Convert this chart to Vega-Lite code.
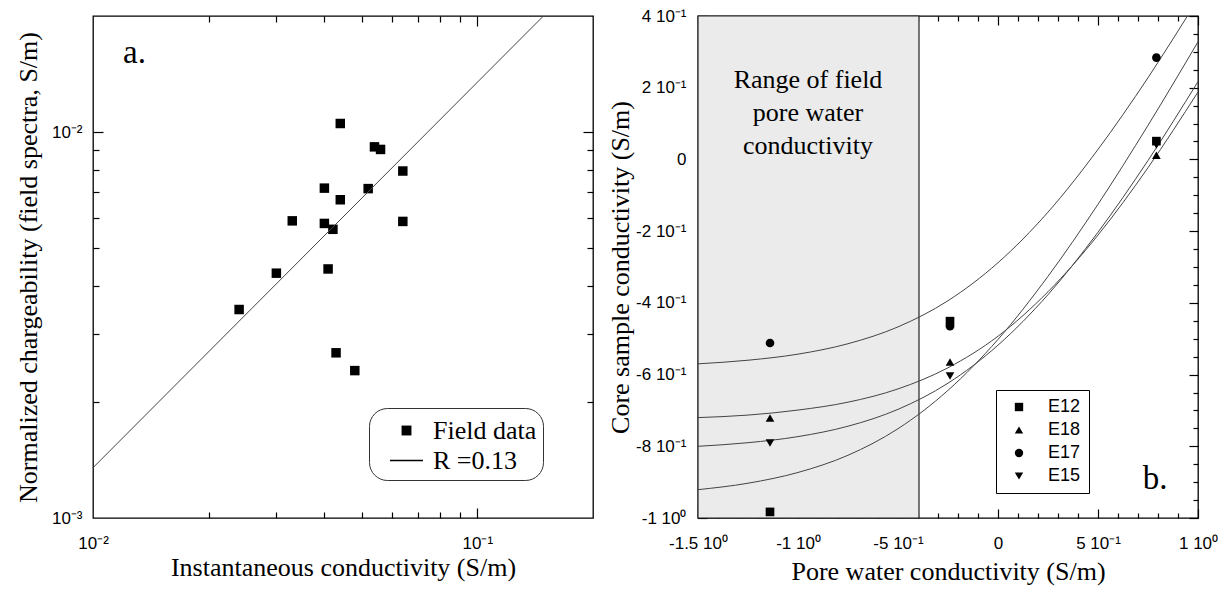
{
  "$schema": "https://vega.github.io/schema/vega-lite/v6.json",
  "padding": {"left": 14, "top": 6, "right": 5, "bottom": 5},
  "spacing": 11,
  "background": "white",
  "resolve": {"scale": {"shape": "independent"}, "legend": {"shape": "independent"}},
  "config": {
    "view": {"stroke": "black", "strokeWidth": 1.3},
    "font": "Liberation Sans",
    "axis": {"grid": false, "domain": false, "labelFont": "Liberation Sans", "labelFontSize": 17, "labelColor": "black", "titleFont": "Liberation Serif", "titleFontSize": 26, "titleFontWeight": "normal", "titleColor": "black", "tickColor": "black", "tickWidth": 1.2, "zindex": 2},
    "text": {"font": "Liberation Serif", "color": "black"}
  },
  "hconcat": [
    {
      "width": 500,
      "height": 502,
      "resolve": {"axis": {"x": "independent", "y": "independent"}},
      "layer": [
        {
          "data": {"values": [
            {"x": 0.0440, "y": 0.01053, "series": "Field data"},
            {"x": 0.0540, "y": 0.00916, "series": "Field data"},
            {"x": 0.0560, "y": 0.00902, "series": "Field data"},
            {"x": 0.0640, "y": 0.00793, "series": "Field data"},
            {"x": 0.0400, "y": 0.00716, "series": "Field data"},
            {"x": 0.0520, "y": 0.00714, "series": "Field data"},
            {"x": 0.0440, "y": 0.00668, "series": "Field data"},
            {"x": 0.0330, "y": 0.00589, "series": "Field data"},
            {"x": 0.0400, "y": 0.00580, "series": "Field data"},
            {"x": 0.0421, "y": 0.00560, "series": "Field data"},
            {"x": 0.0640, "y": 0.00587, "series": "Field data"},
            {"x": 0.0409, "y": 0.00442, "series": "Field data"},
            {"x": 0.0300, "y": 0.00431, "series": "Field data"},
            {"x": 0.0240, "y": 0.00347, "series": "Field data"},
            {"x": 0.0429, "y": 0.00268, "series": "Field data"},
            {"x": 0.0480, "y": 0.00241, "series": "Field data"}
          ]},
          "mark": {"type": "point", "filled": true, "color": "black", "size": 1000, "opacity": 1},
          "encoding": {
            "x": {"field": "x", "type": "quantitative", "scale": {"type": "log", "domain": [0.01, 0.2], "nice": false, "zero": false},
              "axis": {"orient": "bottom", "values": [0.01, 0.1], "ticks": false, "labelExpr": "datum.value < 0.05 ? '10⁻²' : '10⁻¹'", "labelPadding": 17.5, "labelFlush": false, "labelOverlap": false, "title": "Instantaneous conductivity (S/m)", "titlePadding": 3}},
            "y": {"field": "y", "type": "quantitative", "scale": {"type": "log", "domain": [0.001, 0.02], "nice": false, "zero": false},
              "axis": {"orient": "left", "values": [0.001, 0.01], "ticks": false, "labelExpr": "datum.value < 0.005 ? '10⁻³' : '10⁻²'", "labelPadding": 11, "labelFlush": false, "labelOverlap": false, "title": "Normalized chargeability (field spectra, S/m)", "titlePadding": 10}},
            "shape": {"field": "series", "type": "nominal", "scale": {"domain": ["Field data", "R =0.13"], "range": ["M-0.3,-0.3H0.3V0.3H-0.3Z", "M-1,-0.04H1V0.04H-1Z"]},
              "legend": {"orient": "none", "legendX": 276, "legendY": 392, "title": null, "labelFont": "Liberation Serif", "labelFontSize": 26, "labelColor": "black", "labelExpr": "datum.label + '\u00a0\u00a0\u00a0\u00a0\u00a0'", "symbolSize": 1089, "symbolOffset": 15, "labelOffset": 10, "rowPadding": -2, "padding": 6, "strokeColor": "#333", "cornerRadius": 18, "fillColor": "white", "symbolFillColor": "black", "symbolStrokeWidth": 0}}
          }
        },
        {
          "data": {"values": [{"x": 0.01, "y": 0.00135}, {"x": 0.1486, "y": 0.02}]},
          "mark": {"type": "line", "color": "#444", "strokeWidth": 1},
          "encoding": {
            "x": {"field": "x", "type": "quantitative", "scale": {"type": "log", "domain": [0.01, 0.2], "nice": false, "zero": false},
              "axis": {"orient": "bottom", "values": [0.1], "labels": false, "tickSize": 10, "offset": -10, "title": null}},
            "y": {"field": "y", "type": "quantitative", "scale": {"type": "log", "domain": [0.001, 0.02], "nice": false, "zero": false},
              "axis": {"orient": "left", "values": [0.01], "labels": false, "tickSize": 10, "offset": -10, "title": null}}
          }
        },
        {
          "data": {"values": [{"x": 0.01, "y": 0.00135}]},
          "mark": {"type": "point", "opacity": 0},
          "encoding": {
            "x": {"field": "x", "type": "quantitative", "scale": {"type": "log", "domain": [0.01, 0.2], "nice": false, "zero": false},
              "axis": {"orient": "bottom", "values": [0.02, 0.03, 0.04, 0.05, 0.06, 0.07, 0.08, 0.09], "labels": false, "tickSize": 6, "offset": -6, "title": null}},
            "y": {"field": "y", "type": "quantitative", "scale": {"type": "log", "domain": [0.001, 0.02], "nice": false, "zero": false},
              "axis": {"orient": "left", "values": [0.002, 0.003, 0.004, 0.005, 0.006, 0.007, 0.008, 0.009], "labels": false, "tickSize": 6, "offset": -6, "title": null}}
          }
        },
        {
          "data": {"values": [{"x": 0.01, "y": 0.00135}]},
          "mark": {"type": "point", "opacity": 0},
          "encoding": {
            "x": {"field": "x", "type": "quantitative", "scale": {"type": "log", "domain": [0.01, 0.2], "nice": false, "zero": false},
              "axis": {"orient": "top", "values": [0.1], "labels": false, "tickSize": 10, "offset": -10, "title": null}},
            "y": {"field": "y", "type": "quantitative", "scale": {"type": "log", "domain": [0.001, 0.02], "nice": false, "zero": false},
              "axis": {"orient": "right", "values": [0.01], "labels": false, "tickSize": 10, "offset": -10, "title": null}}
          }
        },
        {
          "data": {"values": [{"x": 0.01, "y": 0.00135}]},
          "mark": {"type": "point", "opacity": 0},
          "encoding": {
            "x": {"field": "x", "type": "quantitative", "scale": {"type": "log", "domain": [0.01, 0.2], "nice": false, "zero": false},
              "axis": {"orient": "top", "values": [0.02, 0.03, 0.04, 0.05, 0.06, 0.07, 0.08, 0.09], "labels": false, "tickSize": 6, "offset": -6, "title": null}},
            "y": {"field": "y", "type": "quantitative", "scale": {"type": "log", "domain": [0.001, 0.02], "nice": false, "zero": false},
              "axis": {"orient": "right", "values": [0.002, 0.003, 0.004, 0.005, 0.006, 0.007, 0.008, 0.009], "labels": false, "tickSize": 6, "offset": -6, "title": null}}
          }
        },
        {
          "data": {"values": [{"label": "a."}]},
          "mark": {"type": "text", "font": "Liberation Serif", "fontSize": 33, "align": "left", "baseline": "alphabetic", "color": "black"},
          "encoding": {
            "text": {"field": "label"},
            "x": {"datum": 0.01197, "type": "quantitative", "scale": {"type": "log", "domain": [0.01, 0.2], "nice": false, "zero": false}, "axis": null},
            "y": {"datum": 0.01507, "type": "quantitative", "scale": {"type": "log", "domain": [0.001, 0.02], "nice": false, "zero": false}, "axis": null}
          }
        }
      ]
    },
    {
      "width": 500,
      "height": 502,
      "resolve": {"axis": {"x": "independent", "y": "independent"}},
      "layer": [
        {
          "data": {"values": [{"note": "field range"}]},
          "mark": {"type": "rect", "fill": "#ebebeb", "stroke": "#222", "strokeWidth": 1.2},
          "encoding": {
            "x": {"datum": -1.5, "type": "quantitative", "scale": {"domain": [-1.5, 1], "nice": false, "zero": false}, "axis": null},
            "x2": {"datum": -0.395},
            "y": {"datum": -1, "type": "quantitative", "scale": {"domain": [-1, 0.4], "nice": false, "zero": false}, "axis": null},
            "y2": {"datum": 0.4}
          }
        },
        {
          "data": {"values": [{"t": ["Range of field", "pore water", "conductivity"]}]},
          "mark": {"type": "text", "font": "Liberation Serif", "fontSize": 26, "lineHeight": 33, "align": "center", "baseline": "middle", "color": "black"},
          "encoding": {
            "text": {"field": "t"},
            "x": {"datum": -0.95, "type": "quantitative", "scale": {"domain": [-1.5, 1], "nice": false, "zero": false}, "axis": null},
            "y": {"datum": 0.221, "type": "quantitative", "scale": {"domain": [-1, 0.4], "nice": false, "zero": false}, "axis": null}
          }
        },
        {
          "data": {"values": [
            {"sample": "E17", "x": -1.5, "y": -0.570}, {"sample": "E17", "x": -1.25, "y": -0.560}, {"sample": "E17", "x": -1.0, "y": -0.543}, {"sample": "E17", "x": -0.75, "y": -0.514}, {"sample": "E17", "x": -0.5, "y": -0.467}, {"sample": "E17", "x": -0.25, "y": -0.394}, {"sample": "E17", "x": 0.0, "y": -0.288}, {"sample": "E17", "x": 0.25, "y": -0.147}, {"sample": "E17", "x": 0.5, "y": 0.028}, {"sample": "E17", "x": 0.75, "y": 0.228}, {"sample": "E17", "x": 0.875, "y": 0.336}, {"sample": "E17", "x": 0.947, "y": 0.400},
            {"sample": "E12", "x": -1.5, "y": -0.921}, {"sample": "E12", "x": -1.25, "y": -0.903}, {"sample": "E12", "x": -1.0, "y": -0.873}, {"sample": "E12", "x": -0.75, "y": -0.825}, {"sample": "E12", "x": -0.5, "y": -0.751}, {"sample": "E12", "x": -0.25, "y": -0.644}, {"sample": "E12", "x": 0.0, "y": -0.502}, {"sample": "E12", "x": 0.25, "y": -0.326}, {"sample": "E12", "x": 0.5, "y": -0.125}, {"sample": "E12", "x": 0.75, "y": 0.095}, {"sample": "E12", "x": 1.0, "y": 0.328},
            {"sample": "E18", "x": -1.5, "y": -0.720}, {"sample": "E18", "x": -1.25, "y": -0.713}, {"sample": "E18", "x": -1.0, "y": -0.699}, {"sample": "E18", "x": -0.75, "y": -0.677}, {"sample": "E18", "x": -0.5, "y": -0.640}, {"sample": "E18", "x": -0.25, "y": -0.581}, {"sample": "E18", "x": 0.0, "y": -0.493}, {"sample": "E18", "x": 0.25, "y": -0.369}, {"sample": "E18", "x": 0.5, "y": -0.211}, {"sample": "E18", "x": 0.75, "y": -0.023}, {"sample": "E18", "x": 1.0, "y": 0.188},
            {"sample": "E15", "x": -1.5, "y": -0.800}, {"sample": "E15", "x": -1.25, "y": -0.790}, {"sample": "E15", "x": -1.0, "y": -0.773}, {"sample": "E15", "x": -0.75, "y": -0.744}, {"sample": "E15", "x": -0.5, "y": -0.697}, {"sample": "E15", "x": -0.25, "y": -0.624}, {"sample": "E15", "x": 0.0, "y": -0.518}, {"sample": "E15", "x": 0.25, "y": -0.377}, {"sample": "E15", "x": 0.5, "y": -0.203}, {"sample": "E15", "x": 0.75, "y": -0.003}, {"sample": "E15", "x": 1.0, "y": 0.217}
          ]},
          "mark": {"type": "line", "color": "#444", "strokeWidth": 1, "interpolate": "monotone", "clip": true},
          "encoding": {
            "detail": {"field": "sample"},
            "x": {"field": "x", "type": "quantitative", "scale": {"domain": [-1.5, 1], "nice": false, "zero": false},
              "axis": {"orient": "bottom", "values": [-1.5, -1, -0.5, 0, 0.5, 1], "labels": false, "tickSize": 9, "offset": -9, "title": null}},
            "y": {"field": "y", "type": "quantitative", "scale": {"domain": [-1, 0.4], "nice": false, "zero": false},
              "axis": {"orient": "left", "values": [-1, -0.8, -0.6, -0.4, -0.2, 0, 0.2, 0.4], "labels": false, "tickSize": 9, "offset": -9, "title": null}}
          }
        },
        {
          "data": {"values": [{"x": 0, "y": 0}]},
          "mark": {"type": "point", "opacity": 0},
          "encoding": {
            "x": {"field": "x", "type": "quantitative", "scale": {"domain": [-1.5, 1], "nice": false, "zero": false},
              "axis": {"orient": "bottom", "values": [-1.4, -1.3, -1.2, -1.1, -0.9, -0.8, -0.7, -0.6, -0.4, -0.3, -0.2, -0.1, 0.1, 0.2, 0.3, 0.4, 0.6, 0.7, 0.8, 0.9], "labels": false, "tickSize": 5, "offset": -5, "title": null}},
            "y": {"field": "y", "type": "quantitative", "scale": {"domain": [-1, 0.4], "nice": false, "zero": false},
              "axis": {"orient": "left", "values": [-0.95, -0.9, -0.85, -0.75, -0.7, -0.65, -0.55, -0.5, -0.45, -0.35, -0.3, -0.25, -0.15, -0.1, -0.05, 0.05, 0.1, 0.15, 0.25, 0.3, 0.35], "labels": false, "tickSize": 5, "offset": -5, "title": null}}
          }
        },
        {
          "data": {"values": [{"x": 0, "y": 0}]},
          "mark": {"type": "point", "opacity": 0},
          "encoding": {
            "x": {"field": "x", "type": "quantitative", "scale": {"domain": [-1.5, 1], "nice": false, "zero": false},
              "axis": {"orient": "top", "values": [-1.5, -1, -0.5, 0, 0.5, 1], "labels": false, "tickSize": 9, "offset": -9, "title": null}},
            "y": {"field": "y", "type": "quantitative", "scale": {"domain": [-1, 0.4], "nice": false, "zero": false},
              "axis": {"orient": "right", "values": [-1, -0.8, -0.6, -0.4, -0.2, 0, 0.2, 0.4], "labels": false, "tickSize": 9, "offset": -9, "title": null}}
          }
        },
        {
          "data": {"values": [{"x": 0, "y": 0}]},
          "mark": {"type": "point", "opacity": 0},
          "encoding": {
            "x": {"field": "x", "type": "quantitative", "scale": {"domain": [-1.5, 1], "nice": false, "zero": false},
              "axis": {"orient": "top", "values": [-1.4, -1.3, -1.2, -1.1, -0.9, -0.8, -0.7, -0.6, -0.4, -0.3, -0.2, -0.1, 0.1, 0.2, 0.3, 0.4, 0.6, 0.7, 0.8, 0.9], "labels": false, "tickSize": 5, "offset": -5, "title": null}},
            "y": {"field": "y", "type": "quantitative", "scale": {"domain": [-1, 0.4], "nice": false, "zero": false},
              "axis": {"orient": "right", "values": [-0.95, -0.9, -0.85, -0.75, -0.7, -0.65, -0.55, -0.5, -0.45, -0.35, -0.3, -0.25, -0.15, -0.1, -0.05, 0.05, 0.1, 0.15, 0.25, 0.3, 0.35], "labels": false, "tickSize": 5, "offset": -5, "title": null}}
          }
        },
        {
          "data": {"values": [
            {"sample": "E17", "x": -1.14, "y": -0.512}, {"sample": "E18", "x": -1.14, "y": -0.721}, {"sample": "E15", "x": -1.14, "y": -0.791}, {"sample": "E12", "x": -1.14, "y": -0.983},
            {"sample": "E12", "x": -0.24, "y": -0.451}, {"sample": "E17", "x": -0.24, "y": -0.465}, {"sample": "E18", "x": -0.24, "y": -0.565}, {"sample": "E15", "x": -0.24, "y": -0.604},
            {"sample": "E17", "x": 0.792, "y": 0.284}, {"sample": "E12", "x": 0.792, "y": 0.051}, {"sample": "E15", "x": 0.792, "y": 0.040}, {"sample": "E18", "x": 0.792, "y": 0.012}
          ]},
          "mark": {"type": "point", "filled": true, "color": "black", "size": 75, "opacity": 1},
          "encoding": {
            "x": {"field": "x", "type": "quantitative", "scale": {"domain": [-1.5, 1], "nice": false, "zero": false},
              "axis": {"orient": "bottom", "values": [-1.5, -1, -0.5, 0, 0.5, 1], "ticks": false, "labelPadding": 17.5, "labelFlush": false, "labelOverlap": false,
                "labelExpr": "datum.value == 0 ? '0' : abs(datum.value) >= 1 ? (datum.value < 0 ? '-' : '') + abs(datum.value) + ' 10⁰' : (datum.value < 0 ? '-' : '') + round(abs(datum.value) * 10) + ' 10⁻¹'",
                "title": "Pore water conductivity (S/m)", "titlePadding": 7}},
            "y": {"field": "y", "type": "quantitative", "scale": {"domain": [-1, 0.4], "nice": false, "zero": false},
              "axis": {"orient": "left", "values": [-1, -0.8, -0.6, -0.4, -0.2, 0, 0.2, 0.4], "ticks": false, "labelPadding": 12, "labelFlush": false, "labelOverlap": false,
                "labelExpr": "datum.value == 0 ? '0' : abs(datum.value) >= 1 ? (datum.value < 0 ? '-' : '') + abs(datum.value) + ' 10⁰' : (datum.value < 0 ? '-' : '') + round(abs(datum.value) * 10) + ' 10⁻¹'",
                "title": "Core sample conductivity (S/m)", "titlePadding": 2}},
            "shape": {"field": "sample", "type": "nominal", "scale": {"domain": ["E12", "E18", "E17", "E15"], "range": ["square", "triangle-up", "circle", "triangle-down"]},
              "legend": {"orient": "none", "legendX": 298, "legendY": 374, "title": null, "labelFont": "Liberation Sans", "labelFontSize": 18, "labelColor": "black", "symbolSize": 70, "symbolOffset": 6, "labelOffset": 20, "rowPadding": 5, "padding": 8, "strokeColor": "black", "fillColor": "white", "symbolFillColor": "black", "symbolStrokeWidth": 0}}
          }
        },
        {
          "data": {"values": [{"label": "b."}]},
          "mark": {"type": "text", "font": "Liberation Serif", "fontSize": 33, "align": "left", "baseline": "alphabetic", "color": "black"},
          "encoding": {
            "text": {"field": "label"},
            "x": {"datum": 0.7235, "type": "quantitative", "scale": {"domain": [-1.5, 1], "nice": false, "zero": false}, "axis": null},
            "y": {"datum": -0.918, "type": "quantitative", "scale": {"domain": [-1, 0.4], "nice": false, "zero": false}, "axis": null}
          }
        }
      ]
    }
  ]
}
